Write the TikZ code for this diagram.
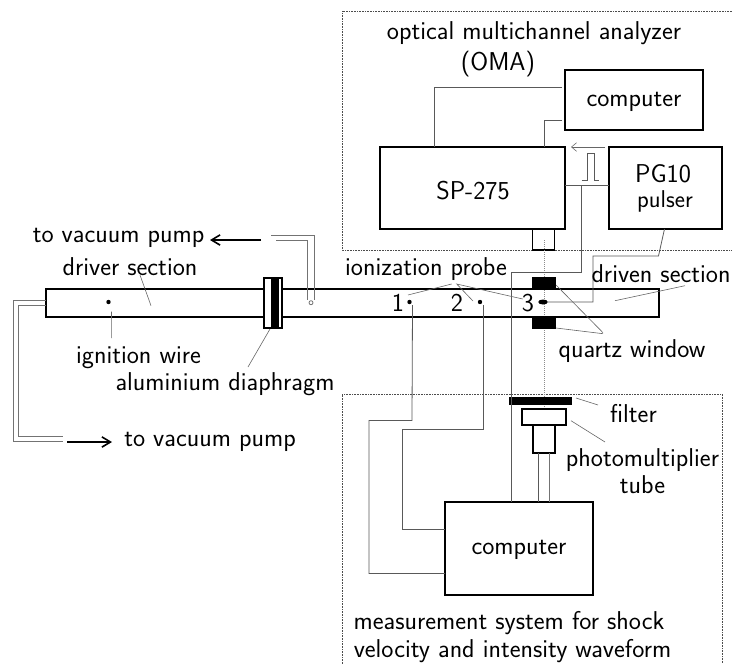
\documentclass[tikz,border=0pt]{standalone}
\usepackage{xcolor}
\usepackage{tikz}
\usetikzlibrary{positioning, arrows.meta, calc, shapes.geometric}

\begin{document}
\begin{tikzpicture}[
  x=1pt, y=-1pt,
  font=\fontsize{25.8}{30}\selectfont\sffamily,
  >={Straight Barb[length=3mm,width=3.6mm]},
  node distance=44pt,
  box/.style={draw, line width=1.9pt, inner sep=0pt, outer sep=0pt},
  partbox/.style={box, fill=white},
  solidpart/.style={fill=black, draw=none, inner sep=0pt, outer sep=0pt},
  probedot/.style={circle, fill=black, inner sep=0pt, minimum size=4.4pt, outer sep=0pt},
  wire/.style={draw=black!65, line width=0.8pt},
  hose/.style={draw=black!55, line width=0.8pt},
  leader/.style={draw=black!60, line width=0.6pt},
  frame/.style={draw=black!70, line width=0.6pt, densely dotted},
  pumpflow/.style={->, line width=1.6pt},
  lbl/.style={inner sep=0pt, outer sep=0pt, yshift=-1.5pt},
]
\useasboundingbox (0,0) rectangle (732,664);

% Dotted frames
\draw[frame] (732,11) -- (342,11) -- (342,250) -- (732,250);
\draw[frame] (342,664) -- (342,394) -- (722,394) -- (722,664);

% OMA boxes
\node[box, minimum width=185pt, minimum height=82pt] (SP) at (472.5,188) {};
\node[box, minimum width=113pt, minimum height=82pt, right=of SP] (PG) {};
\node[box, minimum width=138pt, minimum height=60pt] (COMP) at (634,100) {};
\node[lbl] (SPa) at (473,189) {SP-275};
\node[lbl] (COMPa) at (634,100) {computer};
\node[lbl] (PGa) at (663,172) {PG10};
\node[lbl, font=\fontsize{24.3}{26}\selectfont\sffamily] (PGb) at (665,200) {pulser};
\node[partbox, minimum width=22pt, minimum height=21pt, below=0pt of SP.south west, xshift=163.5pt] (SLIT) {};

% Optical axis
\coordinate (axisT) at (544,240);
\coordinate (axisB) at (544,415);
\draw[black!45, line width=1pt, densely dotted] (axisT) -- (axisB);

% Shock tube
\node[box, minimum width=613pt, minimum height=27.5pt] (TUBE) at (352.5,302.8) {};
\node[partbox, minimum width=18pt, minimum height=50pt] (FLANGE) at (273,303) {};
\node[solidpart, minimum width=8.5pt, minimum height=50pt] (FOIL) at (275,303) {};
\node[solidpart, minimum width=24pt, minimum height=12pt] (QT) at (544,283) {};
\node[solidpart, minimum width=24pt, minimum height=12pt] (QB) at (544,322.5) {};
\node[probedot] (IGN) at (108.5,302) {};
\node[probedot] (PR1) at (409.5,302) {};
\node[probedot] (PR2) at (480,302) {};
\node[ellipse, fill=black, inner sep=0pt, minimum width=9.5pt, minimum height=5pt] (PR3) at (543,302) {};
\node[lbl] (N1) at (398,301.5) {1};
\node[lbl] (N2) at (457,301.5) {2};
\node[lbl] (N3) at (528,301.5) {3};

% Measurement boxes
\node[box, minimum width=148pt, minimum height=93pt] (MC) at (519,548.5) {};
\node[lbl] (MCa) at (519,548) {computer};
\node[solidpart, minimum width=63pt, minimum height=8pt] (FILT) at (540.5,401) {};
\node[partbox, minimum width=44pt, minimum height=16pt] (PMa) at (544,417) {};
\node[partbox, minimum width=22pt, minimum height=28pt, below=0pt of PMa] (PMb) {};

% Wires in the OMA
\coordinate (c1) at ($(COMP.west)+(-3,-13)$);
\coordinate (c2) at ($(COMP.west)+(-3,20)$);
\draw[wire] (c1) -| ([xshift=54pt]SP.north west);
\draw[wire] (c2) -| ([xshift=164pt]SP.north west);
\draw[wire] (SP.east |- 0,185) -- (PG.west |- 0,185);
\coordinate (gateR) at (605,147);
\coordinate (gateL) at (571,147);
\draw[black!60, line width=0.6pt, ->, >={Straight Barb[length=1.8mm,width=3mm]}] (gateR) -- (gateL);
\draw[wire] (581.5,180) -- (587,180) -- (587,153) -- (594,153) -- (594,180) -- (599,180);

% Wires to the measurement computer
\coordinate (tap) at (581.5,185);
\draw[wire] (tap) -- (581.5,272.5) -| ([xshift=66pt]MC.north west);
\draw[wire] ([xshift=-1pt]PG.south) -- (658.5,256) -- (593,256) |- (PR3.east);
\draw[wire] ([shift={(3,3)}]PR1.center) -- (412,420.5) -- (369,420.5) |- ([yshift=-25pt]MC.west);
\draw[wire] ([shift={(3,3)}]PR2.center) -- (483,429) -- (402,429) |- ([yshift=19.5pt]MC.west);
\draw[wire] (PMb.south -| 538.5,0) -- (MC.north -| 538.5,0);
\draw[hose] (PMb.south -| 549.5,0) -- (MC.north -| 549.5,0);

% Vacuum lines
\coordinate (topA) at (271,235);
\coordinate (topB) at (276,240.5);
\coordinate (btmA) at (62.5,441.5);
\coordinate (btmB) at (62.5,436.5);
\draw[hose] (topA) -- (314.5,235) -- (314.5,300);
\draw[hose] (topB) -- (307.5,240.5) -- (307.5,300);
\draw[hose] (311,302.7) circle (2pt);
\draw[hose] ([yshift=2.8pt]TUBE.west) -- (13.5,300) |- (btmA);
\draw[hose] ([yshift=-2.9pt]TUBE.west) -- (18.5,305.7) |- (btmB);
\coordinate (armT) at (261,240);
\coordinate (armB) at (67,442);
\draw[pumpflow] (armT) -- (210,240);
\draw[pumpflow] (armB) -- (112,442);

% Labels
\node[lbl] (OMAa) at (534,32) {optical multichannel analyzer};
\node[lbl] (OMAb) at (498,63) {(OMA)};
\node[lbl] (VACa) at (118.5,236) {to vacuum pump};
\node[lbl] (DRV) at (130,265) {driver section};
\node[lbl] (IGNT) at (138.5,356) {ignition wire};
\node[lbl] (DIA) at (225,383) {aluminium diaphragm};
\node[lbl] (VACb) at (210,440) {to vacuum pump};
\node[lbl] (ION) at (426,268) {ionization probe};
\node[lbl] (DRN) at (661,272) {driven section};
\node[lbl] (QW) at (632,350) {quartz window};
\node[lbl] (FLT) at (633.5,412) {filter};
\node[lbl] (PMTa) at (642.5,459) {photomultiplier};
\node[lbl] (PMTb) at (642.5,483) {tube};
\node[lbl] (MSa) at (509,622) {measurement system for shock};
\node[lbl] (MSb) at (512.5,650) {velocity and intensity waveform};

% Leaders
\draw[leader] (140,275) -- (151,305.7);
\draw[leader] ([shift={(3,9.5)}]IGN.center) -- (111.7,338);
\draw[leader] (FLANGE.south) ++(-3,1) -- (248,367);
\draw[leader] (408,295) -- (451.7,284);
\draw[leader] (473,301) -- (456.7,284) -- (522.7,299);
\draw[leader] (685,285.7) -- (615,300.7);
\draw[leader] (QT.south east) ++(0,-4) -- (603,332.7);
\draw[leader] (QB.east) ++(0,5.5) -- (603,333.7);
\draw[leader] (576,398) -- (598,405);
\draw[leader] (571,420.7) -- (605,442);

\end{tikzpicture}
\end{document}
